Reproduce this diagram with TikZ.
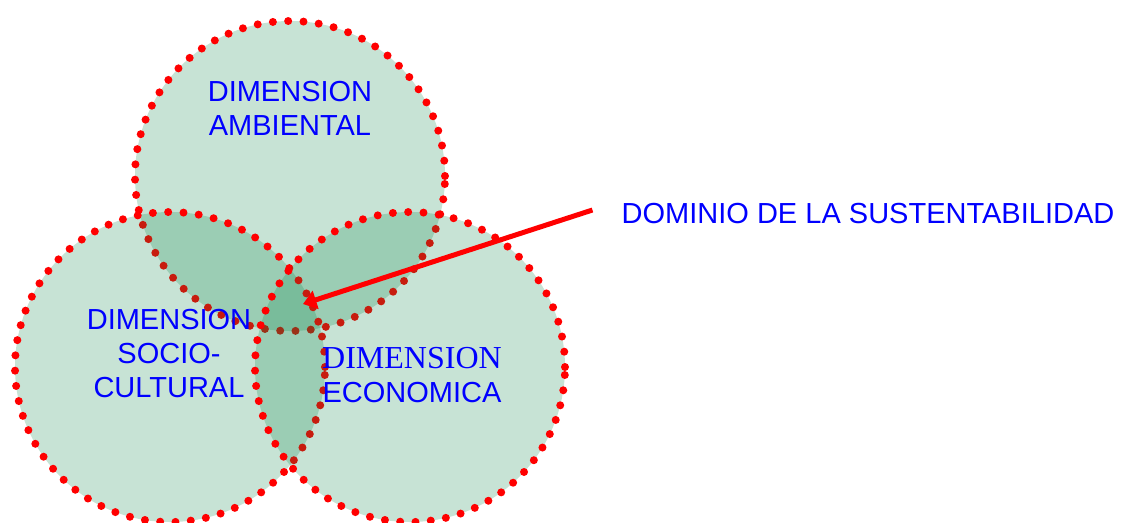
\documentclass[tikz,border=0pt]{standalone}
\usepackage{fontspec}
\setmainfont{Liberation Sans}
\newfontfamily\timesface{Liberation Serif}
\usetikzlibrary{arrows.meta}
\definecolor{venngreen}{RGB}{0,128,64}
\definecolor{labelblue}{RGB}{0,0,255}

\begin{document}
\begin{tikzpicture}[x=0.75pt,y=-0.75pt,
	zone/.style={circle, inner sep=0pt, minimum size=232.5pt, fill=venngreen, fill opacity=0.22, draw=red, line width=6pt, line cap=round, dash pattern=on 0pt off 11.5pt},
	dimtext/.style={text=labelblue, align=center, inner sep=0pt, font=\fontsize{21.75}{25.5}\selectfont},
	pointer/.style={draw=red, line width=3.75pt, -{Triangle[length=10pt,width=14pt]}}]
	\useasboundingbox (0,0) rectangle (1123,522);
	% circles
	\foreach \name/\cx/\cy in {amb/290/176, soc/170/367, eco/410/367} {
		\node[zone] (\name) at (\cx,\cy) {};
	}
	% labels
	\node[dimtext] (ambtext) at (290,108) {DIMENSION\\AMBIENTAL};
	\node[dimtext] (soctext) at (169,354) {DIMENSION\\SOCIO-\\CULTURAL};
	\node[dimtext] (ecotext) at (412,375) {{\timesface\fontsize{24}{25.5}\selectfont DIMENSION}\\ECONOMICA};
	\node[dimtext] (dom) at (868,214) {DOMINIO DE LA SUSTENTABILIDAD};
	% arrow
	\coordinate (core) at (303,304);
	\draw[pointer] ([shift={(-29,-4)}]dom.west) -- (core);
\end{tikzpicture}
\end{document}
